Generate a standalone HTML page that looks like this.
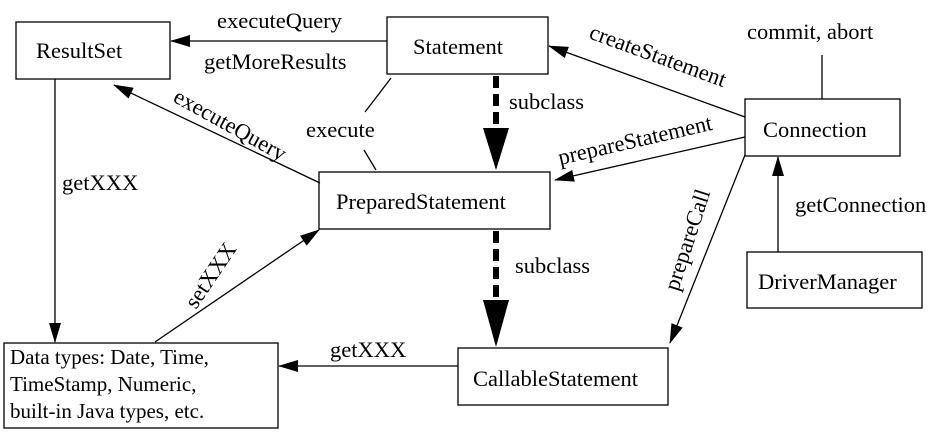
<!DOCTYPE html>
<html><head><style>body{margin:0;background:#fff}svg{display:block}text{font-family:"Liberation Serif","DejaVu Serif",serif;font-size:22.5px;fill:#000}</style></head><body>
<svg width="948" height="432" viewBox="0 0 948 432" font-family="Liberation Serif, serif">
<defs>
<marker id="a" markerWidth="20" markerHeight="12" refX="19" refY="6" orient="auto" markerUnits="userSpaceOnUse"><path d="M0,0L20,6L0,12z"/></marker>
</defs>
<g fill="none" stroke="#000" stroke-width="1.3">
<rect x="16" y="22" width="154" height="57"/>
<rect x="387" y="17" width="161" height="57"/>
<rect x="319" y="172" width="231" height="57"/>
<rect x="745" y="99" width="155" height="57"/>
<rect x="747" y="252" width="175" height="56"/>
<rect x="458" y="348" width="210" height="57"/>
<rect x="4" y="343" width="274" height="85"/>
<line x1="387" y1="41" x2="171" y2="41" marker-end="url(#a)"/>
<line x1="745" y1="117" x2="549" y2="46" marker-end="url(#a)"/>
<line x1="745" y1="137" x2="555" y2="180" marker-end="url(#a)"/>
<line x1="745" y1="155" x2="670" y2="343" marker-end="url(#a)"/>
<line x1="822" y1="55" x2="822" y2="99"/>
<line x1="778" y1="252" x2="778" y2="157" marker-end="url(#a)"/>
<line x1="320" y1="183" x2="114" y2="85" marker-end="url(#a)"/>
<line x1="55" y1="79" x2="55" y2="342" marker-end="url(#a)"/>
<line x1="155" y1="342" x2="319" y2="230" marker-end="url(#a)"/>
<line x1="458" y1="366" x2="279" y2="366" marker-end="url(#a)"/>
<line x1="391" y1="78" x2="365" y2="112"/>
<line x1="364" y1="150" x2="376" y2="170"/>
<line x1="496" y1="76" x2="496" y2="140" stroke-width="6" stroke-dasharray="12,6"/>
<line x1="496" y1="231" x2="496" y2="300" stroke-width="6" stroke-dasharray="12,6"/>
</g>
<path d="M483,128L509,128L496,170z"/>
<path d="M483,300L509,300L496,347z"/>
<text x="217" y="28">executeQuery</text>
<text x="204" y="69">getMoreResults</text>
<text x="36" y="58">ResultSet</text>
<text x="413" y="54">Statement</text>
<text x="336" y="209">PreparedStatement</text>
<text x="763" y="137">Connection</text>
<text x="758" y="289">DriverManager</text>
<text x="473" y="386">CallableStatement</text>
<text x="747" y="39">commit, abort</text>
<text x="795" y="212">getConnection</text>
<text x="509" y="109">subclass</text>
<text x="515" y="273">subclass</text>
<text x="306" y="137">execute</text>
<text x="62" y="190">getXXX</text>
<text x="330" y="357">getXXX</text>
<text x="10" y="364" style="font-size:21px">Data types: Date, Time,</text>
<text x="10" y="391" style="font-size:21px">TimeStamp, Numeric,</text>
<text x="10" y="418" style="font-size:21px">built-in Java types, etc.</text>
<text transform="translate(588,38) rotate(20)">createStatement</text>
<text transform="translate(560,165) rotate(-13)">prepareStatement</text>
<text transform="translate(678,292) rotate(-72)">prepareCall</text>
<text transform="translate(172,101) rotate(29)">executeQuery</text>
<text transform="translate(196,310) rotate(-56)">setXXX</text>
</svg>
</body></html>
